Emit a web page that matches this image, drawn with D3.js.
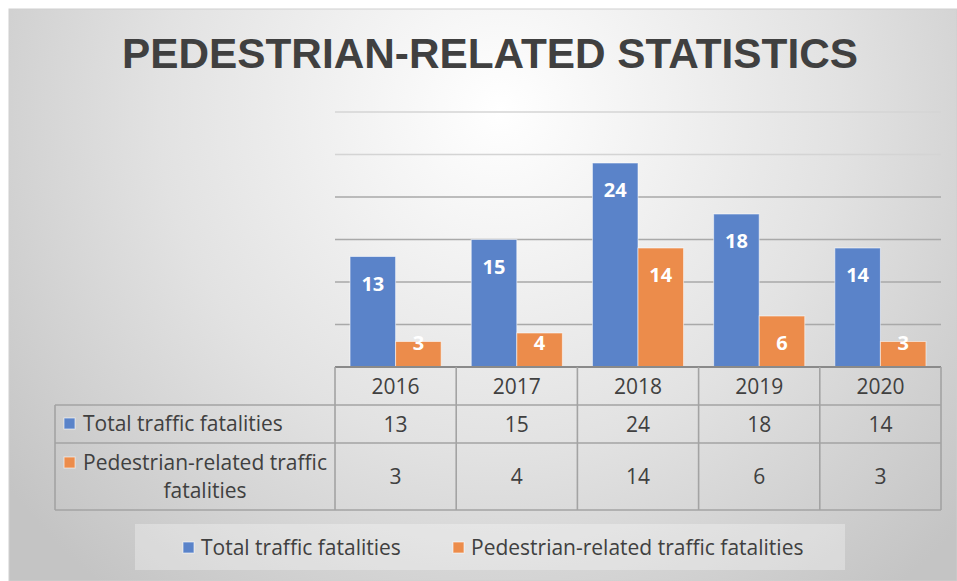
<!DOCTYPE html>
<html>
<head>
<meta charset="utf-8">
<script src="https://cdn.jsdelivr.net/npm/d3@7"></script>
<style>
  html, body { margin: 0; padding: 0; background: #fff; }
  svg { display: block; }
  .cell { font-family: "Open Sans", Lato, sans-serif; fill: #404040; font-variant-ligatures: none; }
</style>
</head>
<body>
<svg id="vis" width="957" height="581"></svg>
<script>
var years = ["2016", "2017", "2018", "2019", "2020"];
var seriesNames = ["Total traffic fatalities", "Pedestrian-related traffic fatalities"];
var totalFatalities = [13, 15, 24, 18, 14];
var pedestrianFatalities = [3, 4, 14, 6, 3];
var yTicks = [0, 5, 10, 15, 20, 25, 30];
var colors = ["#5a83c9", "#ec8c4b"];

var seriesValues = [totalFatalities, pedestrianFatalities];

var svg = d3.select("#vis");
var width = 957, height = 581;
var plot = { left: 335, right: 941, top: 112, bottom: 367 };
var font = "'Open Sans', Lato, sans-serif";
var fs = "21px";

// background with soft radial shading
var defs = svg.append("defs");
var grad = defs.append("radialGradient")
  .attr("id", "bg")
  .attr("gradientUnits", "userSpaceOnUse")
  .attr("cx", 500).attr("cy", 110).attr("r", 620);
grad.append("stop").attr("offset", "0%").attr("stop-color", "#ffffff");
grad.append("stop").attr("offset", "55%").attr("stop-color", "#e2e2e2");
grad.append("stop").attr("offset", "100%").attr("stop-color", "#c4c4c4");

svg.append("rect")
  .attr("x", 9).attr("y", 9)
  .attr("width", width - 9).attr("height", height - 9)
  .attr("fill", "url(#bg)")
  .attr("stroke", "#cfcfcf")
  .attr("stroke-width", 1);

// title
svg.append("text")
  .attr("x", 122).attr("y", 68)
  .attr("textLength", 736)
  .attr("lengthAdjust", "spacingAndGlyphs")
  .style("font-family", "'Liberation Sans', Arial, sans-serif")
  .style("font-weight", "bold")
  .style("font-size", "42px")
  .style("fill", "#404040")
  .text("PEDESTRIAN-RELATED STATISTICS");

var x0 = d3.scaleBand().domain(years).range([plot.left, plot.right]);
var x1 = d3.scaleBand().domain([0, 1]).range([0, x0.bandwidth()]).paddingOuter(0.33);
var y = d3.scaleLinear().domain([0, 30]).range([plot.bottom, plot.top]);

// gridlines
svg.append("g")
  .selectAll("line")
  .data(yTicks.slice(1))
  .enter()
  .append("line")
  .attr("x1", plot.left).attr("x2", plot.right)
  .attr("y1", d => y(d)).attr("y2", d => y(d))
  .style("stroke", d => d >= 25 ? "#d4d4d4" : "#a9a9a9")
  .style("stroke-width", "1.3px");

// bars
var bars = [];
years.forEach(function(yr, i) {
  seriesValues.forEach(function(vals, s) {
    bars.push({ year: yr, s: s, value: vals[i] });
  });
});

svg.append("g")
  .selectAll("rect")
  .data(bars)
  .enter()
  .append("rect")
  .attr("x", d => x0(d.year) + x1(d.s))
  .attr("y", d => y(d.value))
  .attr("width", x1.bandwidth())
  .attr("height", d => y(0) - y(d.value))
  .style("fill", d => colors[d.s])
  .style("stroke", "rgba(255,255,255,0.55)")
  .style("stroke-width", "1px");

svg.append("g")
  .selectAll("text")
  .data(bars)
  .enter()
  .append("text")
  .attr("x", d => x0(d.year) + x1(d.s) + x1.bandwidth() / 2)
  .attr("y", d => Math.min(y(d.value) + 27, y(0) - 24))
  .attr("dy", "0.36em")
  .attr("text-anchor", "middle")
  .style("font-family", font)
  .style("font-weight", "bold")
  .style("font-size", "20px")
  .style("fill", "#ffffff")
  .text(d => d.value);

// data table
var rows = [plot.bottom, 405, 443, 510];
var tableLeft = 55;
var lineColor = "#a3a3a3";
var table = svg.append("g");

// horizontal lines
table.append("line")
  .attr("x1", plot.left).attr("x2", plot.right)
  .attr("y1", rows[0]).attr("y2", rows[0])
  .style("stroke", "#8a8a8a").style("stroke-width", "2px");
[rows[1], rows[2], rows[3]].forEach(function(ry) {
  table.append("line")
    .attr("x1", tableLeft).attr("x2", plot.right)
    .attr("y1", ry).attr("y2", ry)
    .style("stroke", lineColor).style("stroke-width", "1.6px");
});
// vertical lines
table.append("line")
  .attr("x1", tableLeft).attr("x2", tableLeft)
  .attr("y1", rows[1]).attr("y2", rows[3])
  .style("stroke", lineColor).style("stroke-width", "1.6px");
years.forEach(function(yr) {
  table.append("line")
    .attr("x1", x0(yr)).attr("x2", x0(yr))
    .attr("y1", rows[0]).attr("y2", rows[3])
    .style("stroke", lineColor).style("stroke-width", "1.6px");
});
table.append("line")
  .attr("x1", plot.right).attr("x2", plot.right)
  .attr("y1", rows[0]).attr("y2", rows[3])
  .style("stroke", lineColor).style("stroke-width", "1.6px");

// header years
table.selectAll(".yr")
  .data(years)
  .enter()
  .append("text")
  .attr("class", "cell")
  .attr("x", d => x0(d) + x0.bandwidth() / 2)
  .attr("y", (rows[0] + rows[1]) / 2)
  .attr("dy", "0.36em")
  .attr("text-anchor", "middle")
  .style("font-size", fs)
  .text(d => d);

// values
seriesValues.forEach(function(vals, s) {
  table.selectAll(".v" + s)
    .data(vals)
    .enter()
    .append("text")
    .attr("class", "cell")
    .attr("x", (d, i) => x0(years[i]) + x0.bandwidth() / 2)
    .attr("y", (rows[s + 1] + rows[s + 2]) / 2)
    .attr("dy", "0.36em")
    .attr("text-anchor", "middle")
    .style("font-size", fs)
    .text(d => d);
});

// row headers
table.append("rect")
  .attr("x", 64).attr("y", 418).attr("width", 11).attr("height", 11)
  .style("fill", colors[0]).style("stroke", "rgba(255,255,255,0.6)");
table.append("text")
  .attr("class", "cell")
  .attr("x", 83).attr("y", 423)
  .attr("dy", "0.36em")
  .style("font-size", fs)
  .text(seriesNames[0]);

var line1 = table.append("text")
  .attr("class", "cell")
  .attr("x", 205).attr("y", 462)
  .attr("dy", "0.36em")
  .attr("text-anchor", "middle")
  .style("font-size", fs)
  .text("Pedestrian-related traffic");
table.append("text")
  .attr("class", "cell")
  .attr("x", 205).attr("y", 490)
  .attr("dy", "0.36em")
  .attr("text-anchor", "middle")
  .style("font-size", fs)
  .text("fatalities");
var lineStart = 205 - line1.node().getComputedTextLength() / 2;
table.append("rect")
  .attr("x", lineStart - 19).attr("y", 457).attr("width", 11).attr("height", 11)
  .style("fill", colors[1]).style("stroke", "rgba(255,255,255,0.6)");

// legend
var legend = svg.append("g");
legend.append("rect")
  .attr("x", 135).attr("y", 524).attr("width", 710).attr("height", 46)
  .style("fill", "rgba(255,255,255,0.3)");
var legendX = [183, 453];
seriesNames.forEach(function(name, s) {
  legend.append("rect")
    .attr("x", legendX[s]).attr("y", 542).attr("width", 11).attr("height", 11)
    .style("fill", colors[s]).style("stroke", "rgba(255,255,255,0.6)");
  legend.append("text")
    .attr("class", "cell")
    .attr("x", legendX[s] + 18).attr("y", 547)
    .attr("dy", "0.36em")
    .style("font-size", fs)
    .text(name);
});
</script>
</body>
</html>
